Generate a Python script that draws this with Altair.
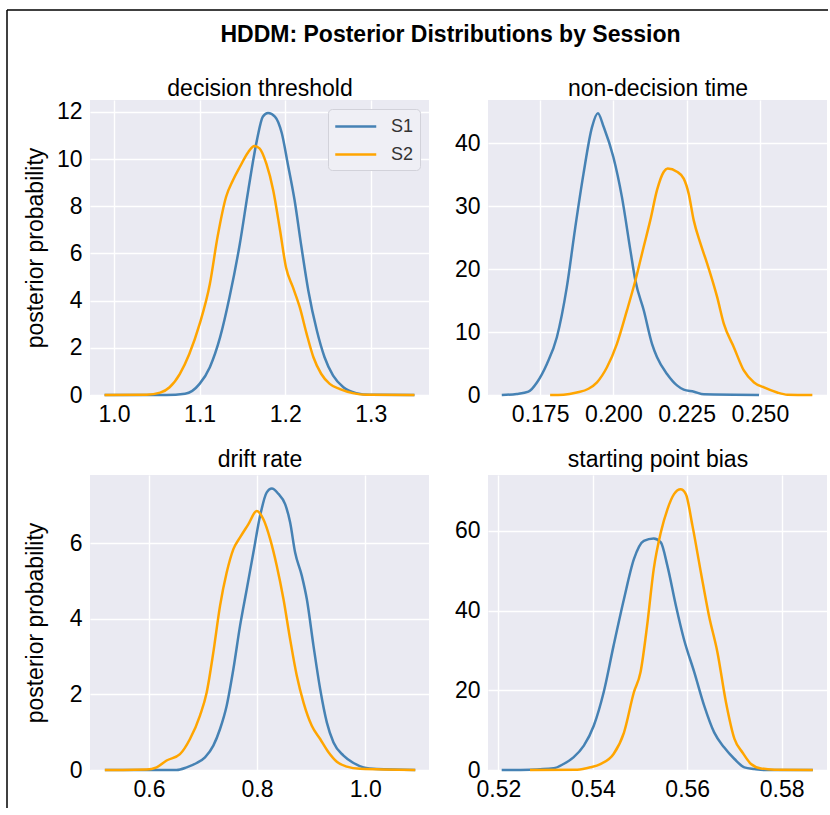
import altair as alt
import pandas as pd

FONT = "Liberation Sans"
BG = "#EAEAF2"
sessions = ["S1", "S2"]
session_colors = ["#4682B4", "#FFA500"]

main_title = "HDDM: Posterior Distributions by Session"
panel_titles = ["decision threshold", "non-decision time", "drift rate", "starting point bias"]
y_title = "posterior probability"

# ---- decision threshold ----
a_x_s1 = [0.989, 1.030, 1.061, 1.083, 1.100, 1.112, 1.124, 1.135, 1.147, 1.157, 1.167, 1.174, 1.180,
          1.188, 1.196, 1.203, 1.211, 1.219, 1.227, 1.237, 1.246, 1.256, 1.268, 1.283, 1.299, 1.351]
a_y_s1 = [0.0, 0.0, 0.0, 0.05, 0.47, 1.18, 2.45, 4.15, 6.4, 8.7, 10.8, 11.8, 11.95,
          11.8, 11.1, 9.8, 8.25, 6.27, 4.43, 2.73, 1.6, 0.82, 0.33, 0.08, 0.01, 0.0]
a_x_s2 = [0.989, 1.038, 1.054, 1.065, 1.077, 1.088, 1.100, 1.112, 1.121, 1.131, 1.139, 1.147, 1.157,
          1.164, 1.170, 1.178, 1.186, 1.194, 1.201, 1.209, 1.217, 1.225, 1.233, 1.242, 1.252, 1.264,
          1.279, 1.295, 1.351]
a_y_s2 = [0.0, 0.01, 0.1, 0.33, 0.9, 1.74, 3.0, 4.7, 6.7, 8.4, 9.1, 9.66, 10.3,
          10.55, 10.45, 9.8, 8.68, 6.98, 5.4, 4.57, 3.72, 2.6, 1.6, 0.9, 0.47, 0.25,
          0.08, 0.01, 0.0]

# ---- non-decision time ----
t_x_s1 = [0.1619, 0.1670, 0.1710, 0.1739, 0.1773, 0.1807, 0.1841, 0.1870, 0.1898, 0.1927, 0.1947,
          0.1967, 0.2000, 0.2029, 0.2058, 0.2075, 0.2104, 0.2132, 0.2149, 0.2183, 0.2218, 0.2240,
          0.2275, 0.2309, 0.2497]
t_y_s1 = [0.0, 0.16, 0.53, 2.0, 4.94, 9.19, 17.15, 26.7, 35.2, 42.6, 44.8,
          42.6, 37.8, 31.5, 23.0, 18.2, 13.4, 8.1, 6.0, 3.35, 1.49, 0.85,
          0.53, 0.1, 0.0]
t_x_s2 = [0.1784, 0.1830, 0.1875, 0.1915, 0.1944, 0.1978, 0.2012, 0.2046, 0.2075, 0.2103, 0.2126,
          0.2149, 0.2172, 0.2185, 0.2217, 0.2240, 0.2257, 0.2274, 0.2297, 0.2320, 0.2354, 0.2377,
          0.2411, 0.2445, 0.2480, 0.2514, 0.2559, 0.2594, 0.2679]
t_y_s2 = [0.0, 0.05, 0.4, 1.0, 2.02, 4.41, 8.13, 13.4, 18.2, 23.5, 27.8,
          32.6, 35.5, 36.0, 35.5, 34.4, 32.0, 27.8, 24.1, 20.9, 15.6, 11.3,
          7.6, 3.9, 2.0, 1.2, 0.4, 0.05, 0.0]

# ---- drift rate ----
v_x_s1 = [0.5185, 0.6512, 0.6698, 0.6883, 0.7037, 0.7191, 0.7315, 0.7438, 0.7562, 0.7685, 0.7809,
          0.7932, 0.8056, 0.8179, 0.8272, 0.8395, 0.8519, 0.8611, 0.8704, 0.8827, 0.8920, 0.9043,
          0.9167, 0.9290, 0.9414, 0.9599, 0.9784, 0.9969, 1.0216, 1.0926]
v_y_s1 = [0.0, 0.0, 0.07, 0.185, 0.335, 0.643, 1.084, 1.70, 2.67, 3.81, 4.78,
          5.75, 6.72, 7.34, 7.44, 7.30, 7.03, 6.55, 5.75, 5.14, 4.52, 3.29,
          2.14, 1.26, 0.73, 0.38, 0.185, 0.07, 0.026, 0.0]
v_x_s2 = [0.5185, 0.5957, 0.6142, 0.6327, 0.6574, 0.6759, 0.6944, 0.7068, 0.7191, 0.7315, 0.7438,
          0.7562, 0.7685, 0.7840, 0.7994, 0.8117, 0.8241, 0.8364, 0.8488, 0.8611, 0.8735, 0.8858,
          0.9012, 0.9167, 0.9321, 0.9475, 0.9660, 0.9907, 1.0926]
v_y_s2 = [0.0, 0.01, 0.07, 0.25, 0.42, 0.82, 1.44, 2.05, 3.11, 4.34, 5.22,
          5.84, 6.15, 6.50, 6.85, 6.63, 6.11, 5.40, 4.52, 3.46, 2.49, 1.79,
          1.17, 0.82, 0.47, 0.22, 0.09, 0.03, 0.0]

# ---- starting point bias ----
z_x_s1 = [0.5207, 0.5267, 0.5317, 0.5338, 0.5359, 0.5381, 0.5402, 0.5423, 0.5444, 0.5466, 0.5487,
          0.5508, 0.5529, 0.5544, 0.5558, 0.5576, 0.5593, 0.5615, 0.5636, 0.5657, 0.5678, 0.5700,
          0.5721, 0.5742, 0.5763, 0.5866]
z_y_s1 = [0.0, 0.08, 0.42, 1.5, 3.17, 6.1, 11.1, 19.5, 31.2, 42.9, 52.9,
          57.5, 58.1, 57.1, 51.2, 41.2, 32.8, 24.5, 16.1, 9.44, 5.68, 2.76,
          0.67, 0.25, 0.0, 0.0]
z_x_s2 = [0.5267, 0.5367, 0.5395, 0.5416, 0.5444, 0.5466, 0.5487, 0.5501, 0.5515, 0.5529, 0.5544,
          0.5558, 0.5572, 0.5586, 0.5597, 0.5611, 0.5629, 0.5646, 0.5664, 0.5682, 0.5700, 0.5717,
          0.5735, 0.5756, 0.5785, 0.5866]
z_y_s2 = [0.0, 0.08, 0.67, 1.5, 4.0, 9.4, 19.5, 24.5, 36.2, 50.4, 59.6,
          65.4, 69.2, 70.4, 69.2, 61.3, 49.5, 38.7, 29.5, 17.0, 7.8, 4.4,
          1.5, 0.4, 0.08, 0.0]

PW, PH = 339, 295
LW = 2.5


def make_df(xs1, ys1, xs2, ys2):
    d1 = pd.DataFrame({"x": xs1, "density": ys1, "session": "S1"})
    d2 = pd.DataFrame({"x": xs2, "density": ys2, "session": "S2"})
    return pd.concat([d1, d2], ignore_index=True)


def panel(title, df, xdom, xticks, xfmt, ydom, yticks, show_ytitle, show_legend,
          title_gap, extra=()):
    if show_legend:
        legend = alt.Legend(
            title=None, orient="top-right", offset=9, symbolType="M-1,0H3",
            symbolSize=420, symbolStrokeWidth=LW, labelFontSize=18, labelFont=FONT,
            labelColor="#333333", labelOffset=34, fillColor="#EFEFF5",
            strokeColor="#D2D2DA", cornerRadius=4, padding=6, rowPadding=7,
        )
    else:
        legend = None
    color = alt.Color(
        "session:N",
        scale=alt.Scale(domain=sessions, range=session_colors),
        legend=legend,
    )
    xscale = alt.Scale(domain=xdom, nice=False, zero=False)
    yscale = alt.Scale(domain=ydom, nice=False, zero=False)
    xaxis = alt.Axis(
        values=xticks, format=xfmt, title=None, grid=True, gridColor="white",
        gridWidth=1.4, domain=False, ticks=False, tickSize=0, labelPadding=8,
        labelFontSize=23, labelFont=FONT, labelColor="black", labelFlush=False,
        labelOverlap=False,
    )
    yaxis_kw = dict(
        values=yticks, format="d", grid=True, gridColor="white", gridWidth=1.4,
        domain=False, ticks=False, tickSize=0, labelPadding=8, labelFontSize=23,
        labelFont=FONT, labelColor="black", labelFlush=False, labelOverlap=False,
    )
    if show_ytitle:
        yaxis = alt.Axis(
            title=y_title, titleFont=FONT, titleFontSize=23, titleFontWeight="normal",
            titleColor="black", titleX=-43, titleY=PH / 2, titleAngle=270,
            titleAlign="center", titleBaseline="bottom", **yaxis_kw,
        )
    else:
        yaxis = alt.Axis(title=None, **yaxis_kw)
    lines = alt.Chart(df).mark_line(strokeWidth=LW, interpolate="monotone").encode(
        x=alt.X("x:Q", scale=xscale, axis=xaxis),
        y=alt.Y("density:Q", scale=yscale, axis=yaxis),
        color=color,
    )
    # panel title, drawn as the title of a label-less top axis
    top_axis = alt.Axis(
        orient="top", title=title, labels=False, ticks=False, domain=False, grid=False,
        titleFont=FONT, titleFontSize=23, titleFontWeight="normal", titleColor="black",
        titleBaseline="alphabetic", titleAlign="center", titleAngle=0,
        titleX=PW / 2, titleY=-title_gap,
    )
    title_layer = alt.Chart(df).mark_rule(strokeOpacity=0).encode(
        x=alt.X("x:Q", scale=xscale, axis=top_axis)
    )
    layers = [lines, title_layer]
    for make in extra:
        layers.append(make(df, yscale))
    return alt.layer(*layers).resolve_axis(x="independent", y="independent").properties(
        width=PW, height=PH
    )


def main_title_layer(df, yscale):
    # figure title, drawn as the title of a label-less right axis of the first panel
    axis = alt.Axis(
        orient="right", title=main_title, labels=False, ticks=False, domain=False, grid=False,
        titleFont=FONT, titleFontSize=23, titleFontWeight="bold", titleColor="black",
        titleAngle=0, titleAlign="center", titleBaseline="alphabetic",
        titleX=21, titleY=-59,
    )
    return alt.Chart(df).mark_rule(strokeOpacity=0).encode(
        y=alt.Y("density:Q", scale=yscale, axis=axis)
    )


frame_df = pd.DataFrame({"f": [0]})


def frame_top(df, yscale):
    return alt.Chart(frame_df).mark_rule(color="black", strokeWidth=1.5).encode(
        x=alt.value(-83), x2=alt.value(738), y=alt.value(-90))


def frame_left(df, yscale):
    return alt.Chart(frame_df).mark_rule(color="black", strokeWidth=1.5).encode(
        x=alt.value(-83), y=alt.value(-90), y2=alt.value(708))


p1 = panel(panel_titles[0], make_df(a_x_s1, a_y_s1, a_x_s2, a_y_s2),
           [0.972, 1.368], [1.0, 1.1, 1.2, 1.3], ".1f",
           [0, 12.5], [0, 2, 4, 6, 8, 10, 12], True, True, 4.5,
           extra=(main_title_layer, frame_top, frame_left))
p2 = panel(panel_titles[1], make_df(t_x_s1, t_y_s1, t_x_s2, t_y_s2),
           [0.1572, 0.2729], [0.175, 0.2, 0.225, 0.25], ".3f",
           [0, 46.9], [0, 10, 20, 30, 40], False, False, 4.5)
p3 = panel(panel_titles[2], make_df(v_x_s1, v_y_s1, v_x_s2, v_y_s2),
           [0.491, 1.118], [0.6, 0.8, 1.0], ".1f",
           [0, 7.8], [0, 2, 4, 6], True, False, 8.5)
p4 = panel(panel_titles[3], make_df(z_x_s1, z_y_s1, z_x_s2, z_y_s2),
           [0.5178, 0.5896], [0.52, 0.54, 0.56, 0.58], ".2f",
           [0, 74.0], [0, 20, 40, 60], False, False, 8.5)

chart = alt.concat(
    p1, p2, p3, p4, columns=2, spacing={"row": 80, "column": 59}, bounds="flush"
).resolve_legend(color="independent").properties(
    padding={"left": 6, "top": 9, "right": 0, "bottom": 0},
    background="white",
).configure_view(fill=BG, stroke=None)

chart.save("out.html", embed_options={"renderer": "svg", "actions": False})
